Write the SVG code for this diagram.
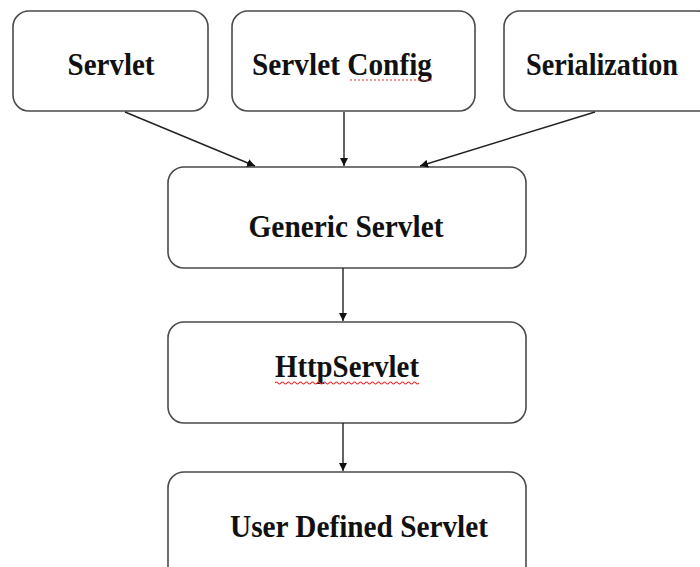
<svg xmlns="http://www.w3.org/2000/svg" width="700" height="567" viewBox="0 0 700 567">
<style>
.box{fill:#fff;stroke:#4a4a4a;stroke-width:1.6}
.lbl{font-family:"Liberation Serif","Times New Roman",serif;font-weight:bold;font-size:32px;fill:#111;text-anchor:middle}
.edge{stroke:#222;stroke-width:1.4;fill:none;marker-end:url(#ah)}
.spell{stroke:#e03030;stroke-width:1.2;fill:none}
</style>
<defs>
<marker id="ah" viewBox="0 0 10 10" refX="10" refY="5" markerWidth="8" markerHeight="8" markerUnits="userSpaceOnUse" orient="auto">
<path d="M0,0 L10,5 L0,10 z" fill="#111"/>
</marker>
</defs>
<rect width="700" height="567" fill="#fff"/>
<g id="servlet">
<rect class="box" x="13" y="11" width="195" height="100" rx="16"/>
<text class="lbl" x="111" y="75" textLength="87" lengthAdjust="spacingAndGlyphs">Servlet</text>
</g>
<g id="servlet-config">
<rect class="box" x="232" y="11" width="243" height="100" rx="16"/>
<text class="lbl" x="342" y="75" textLength="180" lengthAdjust="spacingAndGlyphs">Servlet  Config</text>
<path class="spell" d="M350,80 H433" stroke-dasharray="2,2"/>
</g>
<g id="serialization">
<rect class="box" x="504" y="11" width="210" height="100" rx="16"/>
<text class="lbl" x="602" y="75" textLength="152" lengthAdjust="spacingAndGlyphs">Serialization</text>
</g>
<g id="generic-servlet">
<rect class="box" x="168" y="167" width="358" height="101" rx="16"/>
<text class="lbl" x="346" y="237" textLength="195" lengthAdjust="spacingAndGlyphs">Generic  Servlet</text>
</g>
<g id="httpservlet">
<rect class="box" x="168" y="322" width="358" height="101" rx="16"/>
<text class="lbl" x="347" y="377" textLength="144" lengthAdjust="spacingAndGlyphs">HttpServlet</text>
<path class="spell" d="M275,383 q1.5,-2 3,0 t3,0 t3,0 t3,0 t3,0 t3,0 t3,0 t3,0 t3,0 t3,0 t3,0 t3,0 t3,0 t3,0 t3,0 t3,0 t3,0 t3,0 t3,0 t3,0 t3,0 t3,0 t3,0 t3,0 t3,0 t3,0 t3,0 t3,0 t3,0 t3,0 t3,0 t3,0 t3,0 t3,0 t3,0 t3,0 t3,0 t3,0 t3,0 t3,0 t3,0 t3,0 t3,0 t3,0 t3,0 t3,0 t3,0 t3,0"/>
</g>
<g id="user-defined-servlet">
<rect class="box" x="168" y="472" width="358" height="110" rx="16"/>
<text class="lbl" x="359" y="537" textLength="258" lengthAdjust="spacingAndGlyphs">User Defined  Servlet</text>
</g>
<g id="connectors">
<line class="edge" x1="125" y1="112" x2="255" y2="166"/>
<line class="edge" x1="344" y1="112" x2="344" y2="166"/>
<line class="edge" x1="595" y1="112" x2="420" y2="166"/>
<line class="edge" x1="343" y1="268" x2="343" y2="321"/>
<line class="edge" x1="343" y1="423" x2="343" y2="471"/>
</g>
</svg>
